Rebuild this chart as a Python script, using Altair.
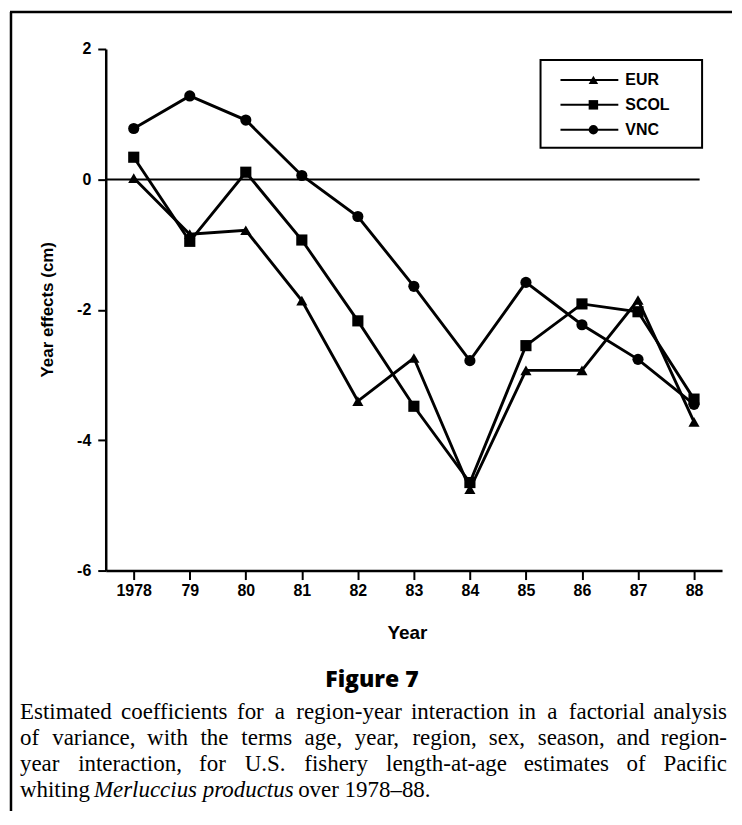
import altair as alt
import pandas as pd

# ---- data ----
years = [1978, 1979, 1980, 1981, 1982, 1983, 1984, 1985, 1986, 1987, 1988]
series_names = ["EUR", "SCOL", "VNC"]
eur = [0.02, -0.84, -0.78, -1.86, -3.40, -2.74, -4.75, -2.93, -2.93, -1.85, -3.72]
scol = [0.34, -0.95, 0.11, -0.93, -2.17, -3.48, -4.65, -2.55, -1.91, -2.03, -3.37]
vnc = [0.78, 1.28, 0.91, 0.06, -0.57, -1.64, -2.78, -1.58, -2.23, -2.76, -3.45]
y_ticks = [-6, -4, -2, 0, 2]
x_title = "Year"
y_title = "Year effects (cm)"
fig_title = "Figure 7"
caption_lines = [
    "Estimated coefficients for a region-year interaction in a factorial analysis",
    "of variance, with the terms age, year, region, sex, season, and region-",
    "year interaction, for U.S. fishery length-at-age estimates of Pacific",
]
caption_last = ["whiting", "Merluccius productus", "over 1978\u201388."]

# ---- table ----
rows = []
for name, vals in zip(series_names, [eur, scol, vnc]):
    for yr, v in zip(years, vals):
        rows.append({"year": yr, "value": v, "region": name})
df = pd.DataFrame(rows)

W, H = 618, 523
XDOM = [1977.5, 1988.5]
YDOM = [-6, 2]
SANS = "Liberation Sans"
SERIF = "Liberation Serif"
CAP = 23
shapes = ["triangle-up", "square", "circle"]

# approximate Times-metric advance widths (1/1000 em), for laying out the caption words
TW = {" ": 250, ",": 250, "-": 333, ".": 250, "\u2013": 500,
      "E": 611, "P": 556, "S": 556, "U": 722, "M": 833,
      "a": 444, "b": 500, "c": 444, "d": 500, "e": 444, "f": 333, "g": 500, "h": 500,
      "i": 278, "j": 278, "k": 500, "l": 278, "m": 778, "n": 500, "o": 500, "p": 500,
      "q": 500, "r": 333, "s": 389, "t": 278, "u": 500, "v": 500, "w": 722, "x": 500,
      "y": 500, "z": 444}
TWI = dict(TW, r=389, M=833)


def text_w(s, size, table=TW):
    return sum(table.get(c, 500) for c in s) / 1000.0 * size * 0.975


xscale = alt.Scale(domain=XDOM, nice=False, zero=False)
yscale = alt.Scale(domain=YDOM, nice=False, zero=False)

x_axis = alt.Axis(
    values=years,
    labelExpr="datum.value == 1978 ? '1978' : slice(toString(datum.value), 2)",
    tickSize=9, tickWidth=2, tickColor="black",
    domainWidth=2.5, domainColor="black",
    labelFont=SANS, labelFontWeight="bold", labelFontSize=16, labelColor="black",
    labelPadding=3, labelFlush=False, labelOverlap=False,
    title=x_title, titleFont=SANS, titleFontWeight="bold", titleFontSize=19,
    titleColor="black", titleX=302, titleY=62, titleBaseline="middle",
    titleAlign="center", grid=False,
)
y_axis = alt.Axis(
    values=y_ticks,
    labelExpr="toString(datum.value)",
    tickSize=8, tickWidth=2, tickColor="black",
    domainWidth=2.5, domainColor="black",
    labelFont=SANS, labelFontWeight="bold", labelFontSize=16, labelColor="black",
    labelPadding=7, labelFlush=False,
    title=y_title, titleFont=SANS, titleFontWeight="bold", titleFontSize=17,
    titleColor="black", titleX=-58, titleY=261, titleAngle=-90,
    titleAlign="center", titleBaseline="middle", grid=False,
)

lines = alt.Chart(df).mark_line(color="black", strokeWidth=2.9).encode(
    x=alt.X("year:Q", scale=xscale, axis=x_axis),
    y=alt.Y("value:Q", scale=yscale, axis=y_axis),
    detail="region:N",
)
points = alt.Chart(df).mark_point(filled=True, color="black", size=125, opacity=1).encode(
    x=alt.X("year:Q", scale=xscale),
    y=alt.Y("value:Q", scale=yscale),
    shape=alt.Shape("region:N", scale=alt.Scale(domain=series_names, range=shapes), legend=None),
)
zero = alt.Chart(pd.DataFrame({"year": [XDOM[0]], "year2": [1988.1], "value": [0]})).mark_rule(
    color="black", strokeWidth=2
).encode(x=alt.X("year:Q", scale=xscale), x2="year2:Q", y=alt.Y("value:Q", scale=yscale))


def txt(s, x, y, font=SANS, size=16, weight="normal", style="normal", align="left", baseline="middle"):
    return alt.Chart(pd.DataFrame({"t": [s]})).mark_text(
        font=font, fontSize=size, fontWeight=weight, fontStyle=style,
        align=align, baseline=baseline, color="black",
    ).encode(x=alt.value(x), y=alt.value(y), text="t:N")


def hline(x1, x2, y, w=2):
    return alt.Chart(pd.DataFrame({"a": [0]})).mark_rule(color="black", strokeWidth=w).encode(
        x=alt.value(x1), x2=alt.value(x2), y=alt.value(y))


def vline(x, y1, y2, w=2):
    return alt.Chart(pd.DataFrame({"a": [0]})).mark_rule(color="black", strokeWidth=w).encode(
        x=alt.value(x), y=alt.value(y1), y2=alt.value(y2))


layers = [zero, lines, points]

# frame (kept inside the page so nothing overflows)
layers.append(hline(-96, 628, -37, 2.5))
layers.append(vline(-95, -37, 764, 2.5))

# legend box
box = alt.Chart(pd.DataFrame({"a": [0]})).mark_rect(
    fill="white", stroke="black", strokeWidth=2
).encode(x=alt.value(436), x2=alt.value(598), y=alt.value(11), y2=alt.value(99))
layers.append(box)
for i, name in enumerate(series_names):
    yy = 31 + 25 * i
    layers.append(hline(456, 514, yy, 2))
    layers.append(
        alt.Chart(pd.DataFrame({"a": [0]})).mark_point(
            filled=True, color="black", opacity=1, size=90, shape=shapes[i]
        ).encode(x=alt.value(489), y=alt.value(yy))
    )
    layers.append(txt(name, 521, yy, size=16, weight="bold"))

# figure title
layers.append(txt(fig_title, 267, 633, font="Open Sans", size=23, weight=800, align="center"))

# justified caption lines (word by word)
LEFT, RIGHT = -86, 623
for i, line in enumerate(caption_lines):
    yy = 665 + 26 * i
    words = line.split(" ")
    widths = [text_w(w, CAP) for w in words]
    gap = (RIGHT - LEFT - sum(widths)) / (len(words) - 1)
    xpos = LEFT
    for j, w in enumerate(words):
        if j == len(words) - 1:
            layers.append(txt(w, RIGHT, yy, font=SERIF, size=CAP, align="right"))
        else:
            layers.append(txt(w, xpos, yy, font=SERIF, size=CAP))
        xpos += widths[j] + gap

# last line with italic species name
yy = 665 + 26 * 3
sp = text_w(" ", CAP)
x0 = LEFT
layers.append(txt(caption_last[0], x0, yy, font=SERIF, size=CAP))
x1 = x0 + text_w(caption_last[0], CAP) + sp
layers.append(txt(caption_last[1], x1, yy, font=SERIF, size=CAP, style="italic"))
x2 = x1 + text_w(caption_last[1], CAP, TWI) + sp + 3
layers.append(txt(caption_last[2], x2, yy, font=SERIF, size=CAP))

chart = alt.layer(*layers).properties(
    width=W, height=H,
    padding={"left": 0, "top": 1, "right": 0, "bottom": 0},
    background="white",
).configure_view(stroke=None)

chart.save("out.html", embed_options={"renderer": "svg", "actions": False})
